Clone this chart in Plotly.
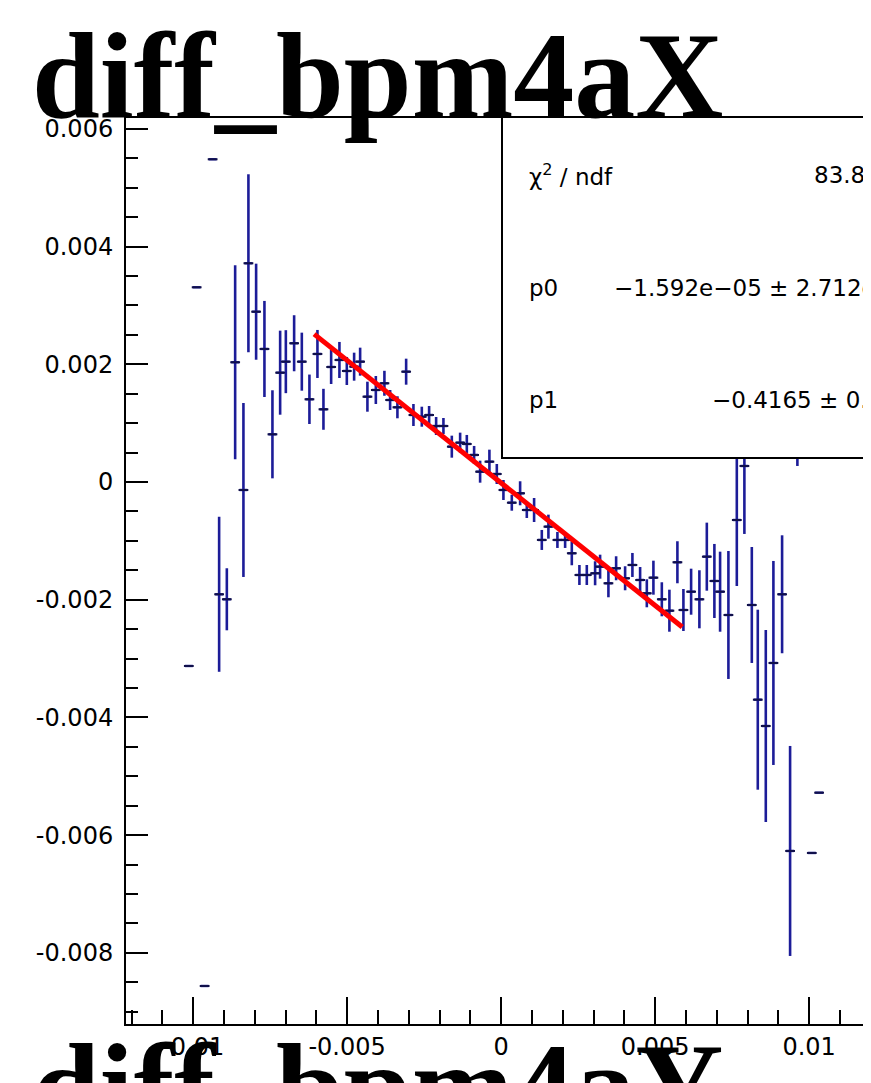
import plotly.graph_objects as go

# ---------------- data ----------------
x_centers = [
    -0.01014, -0.009886, -0.009627, -0.009367, -0.009156, -0.008906, -0.008636, -0.008367,
    -0.008205, -0.007955, -0.007685, -0.007425, -0.007175, -0.006990, -0.006721, -0.006471,
    -0.006224, -0.005964, -0.005769, -0.005519, -0.005250, -0.005010, -0.004773, -0.004578,
    -0.004341, -0.004068, -0.003789, -0.003604, -0.003367, -0.003084, -0.002847, -0.002575,
    -0.002338, -0.002110, -0.001873, -0.001601, -0.001331, -0.001114, -0.000877, -0.000682,
    -0.000380, -0.000140, 0.000075, 0.000347, 0.000617, 0.000834, 0.001071, 0.001321,
    0.001536, 0.001828, 0.002078, 0.002295, 0.002542, 0.002782, 0.003052, 0.003214,
    0.003484, 0.003734, 0.004026, 0.004263, 0.004513, 0.004731, 0.004945, 0.005218,
    0.005464, 0.005724, 0.005919, 0.006169, 0.006438, 0.006679, 0.006925, 0.007110,
    0.007380, 0.007653, 0.007899, 0.008140, 0.008334, 0.008594, 0.008841, 0.009123,
    0.009383, 0.009620, 0.010088, 0.010325,
]
y_means = [
    -0.003126, 0.003308, -0.008563, 0.005483, -0.001908, -0.001993, 0.002034, -0.000136,
    0.003716, 0.002893, 0.002260, 0.000810, 0.001857, 0.002044, 0.002357, 0.002044,
    0.001405, 0.002175, 0.001235, 0.001954, 0.002073, 0.001886, 0.001959, 0.002044,
    0.001449, 0.001563, 0.001677, 0.001393, 0.001269, 0.001874, 0.001138, 0.001109,
    0.001138, 0.000951, 0.000951, 0.000600, 0.000668, 0.000646, 0.000459, 0.000175,
    0.000345, 0.000136, -0.000136, -0.000352, -0.000192, -0.000476, -0.000476, -0.000985,
    -0.000759, -0.000985, -0.000985, -0.001211, -0.001580, -0.001580, -0.001551, -0.001439,
    -0.001721, -0.001466, -0.001636, -0.001410, -0.001665, -0.001891, -0.001626, -0.001993,
    -0.002187, -0.001364, -0.002175, -0.001864, -0.001993, -0.001269, -0.001682, -0.001864,
    -0.002260, -0.000646, 0.000272, -0.002090, -0.003699, -0.004146, -0.003075, -0.001908,
    -0.006269, 0.001563, -0.006303, -0.005279,
]
y_errors = [
    0.0, 0.0, 0.0, 0.0, 0.001317, 0.000527, 0.001648, 0.001478,
    0.001512, 0.000816, 0.000816, 0.000748, 0.000714, 0.000535, 0.000476, 0.000493,
    0.000420, 0.000408, 0.000348, 0.000289, 0.000306, 0.000238, 0.000238, 0.000238,
    0.000255, 0.000238, 0.000212, 0.000170, 0.000187, 0.000221, 0.000187, 0.000170,
    0.000153, 0.000153, 0.000136, 0.000187, 0.000170, 0.000153, 0.000153, 0.000187,
    0.000204, 0.000170, 0.000170, 0.000136, 0.000204, 0.000136, 0.000204, 0.000170,
    0.000204, 0.000136, 0.000136, 0.000204, 0.000170, 0.000170, 0.000204, 0.000204,
    0.000238, 0.000204, 0.000204, 0.000204, 0.000221, 0.000238, 0.000289, 0.000289,
    0.000357, 0.000357, 0.000357, 0.000391, 0.000493, 0.000578, 0.000629, 0.000680,
    0.001087, 0.001121, 0.001155, 0.000985, 0.001529, 0.001631, 0.001733, 0.001002,
    0.001784, 0.001291, 0.0, 0.0,
]

# linear fit shown in the stats box
fit_p0 = -1.592e-05
fit_p1 = -0.4165
fit_x = [-0.00607, 0.00588]
fit_y = [fit_p0 + fit_p1 * v for v in fit_x]

x_tick_vals = [-0.01, -0.005, 0.0, 0.005, 0.01]
x_tick_text = ["-0.01", "-0.005", "0", "0.005", "0.01"]
y_tick_vals = [0.006, 0.004, 0.002, 0.0, -0.002, -0.004, -0.006, -0.008]
y_tick_text = ["0.006", "0.004", "0.002", "0", "-0.002", "-0.004", "-0.006", "-0.008"]

stats_rows = [
    ("\u03c7<sup>2</sup> / ndf", "83.82 / 81"),
    ("p0", "\u22121.592e\u221205 \u00b1 2.712e\u221205"),
    ("p1", "\u22120.4165 \u00b1 0.0071"),
]

title_text = "diff_bpm4aX"
next_title_text = "diff_bpm4aY"

# ---------------- figure ----------------
# the page body adds an 8px margin, so the figure is made 8px smaller
OFF = 8
W, H = 871 - OFF, 1083 - OFF
ML, MR, MT, MB = 126 - OFF, 0, 118 - OFF, 1083 - 1024
PW, PH = W - ML - MR, H - MT - MB


def px2paper_x(px):
    """page pixel -> paper x"""
    return (px - OFF - ML) / PW


def px2paper_y(py):
    """page pixel -> paper y"""
    return (H - MB - (py - OFF)) / PH


BLUE = "#1c1c98"
FONT = "DejaVu Sans"

fig = go.Figure()

fig.add_trace(go.Scatter(
    x=x_centers, y=y_means, mode="markers",
    marker=dict(symbol="line-ew", size=7, color="#10104a",
                line=dict(color="#10104a", width=2)),
    error_y=dict(type="data", array=y_errors, visible=True,
                 color=BLUE, thickness=2.6, width=0),
    error_x=dict(type="constant", value=0.00013, visible=True,
                 color=BLUE, thickness=2.4, width=0),
    showlegend=False, hoverinfo="x+y",
))

fig.add_trace(go.Scatter(
    x=fit_x, y=fit_y, mode="lines",
    line=dict(color="#ff0000", width=5),
    showlegend=False,
))

axis_common = dict(
    showgrid=False, zeroline=False, showline=True, linecolor="black",
    linewidth=2, ticks="inside", tickcolor="black", tickwidth=2,
    tickfont=dict(family=FONT, size=24, color="black"),
)

fig.update_xaxes(
    **axis_common,
    range=[-0.01218, 0.01201],
    tickmode="array", tickvals=x_tick_vals, ticktext=x_tick_text,
    ticklen=27, mirror=True,
    minor=dict(ticks="inside", dtick=0.001, tick0=0, ticklen=14,
               tickcolor="black", tickwidth=2),
    ticklabelstandoff=0,
)
fig.update_yaxes(
    **axis_common,
    range=[-0.009209, 0.006184],
    tickmode="array", tickvals=y_tick_vals, ticktext=y_tick_text,
    ticklen=22,
    minor=dict(ticks="inside", dtick=0.0005, tick0=0, ticklen=12,
               tickcolor="black", tickwidth=2),
    ticklabelstandoff=6,
)

# stats box
fig.add_shape(type="rect", xref="paper", yref="paper",
              x0=px2paper_x(502), x1=1.2, y0=px2paper_y(458), y1=px2paper_y(117),
              line=dict(color="black", width=2), fillcolor="white", layer="above")

row_y = [175, 288, 400]
value_x = [812, 612, 710]
annotations = []
for (lab, val), ry, vx in zip(stats_rows, row_y, value_x):
    annotations.append(dict(
        text=lab, xref="paper", yref="paper", x=px2paper_x(527), y=px2paper_y(ry),
        xanchor="left", yanchor="middle", showarrow=False,
        font=dict(family=FONT, size=23, color="black")))
    annotations.append(dict(
        text=val, xref="paper", yref="paper", x=px2paper_x(vx), y=px2paper_y(ry),
        xanchor="left", yanchor="middle", showarrow=False,
        font=dict(family=FONT, size=23, color="black")))

# titles (this pad and the top of the next one)
annotations.append(dict(
    text="<b>" + title_text + "</b>", xref="paper", yref="paper",
    x=px2paper_x(30), y=px2paper_y(145), xanchor="left", yanchor="bottom",
    showarrow=False, font=dict(family="Liberation Serif", size=122, color="black")))
annotations.append(dict(
    text="<b>" + next_title_text + "</b>", xref="paper", yref="paper",
    x=px2paper_x(30), y=px2paper_y(1156), xanchor="left", yanchor="bottom",
    showarrow=False, font=dict(family="Liberation Serif", size=122, color="black")))

fig.update_layout(
    width=W, height=H,
    margin=dict(l=ML, r=MR, t=MT, b=MB, pad=0),
    paper_bgcolor="white", plot_bgcolor="white",
    annotations=annotations,
    showlegend=False,
)

fig.write_html("out.html")
